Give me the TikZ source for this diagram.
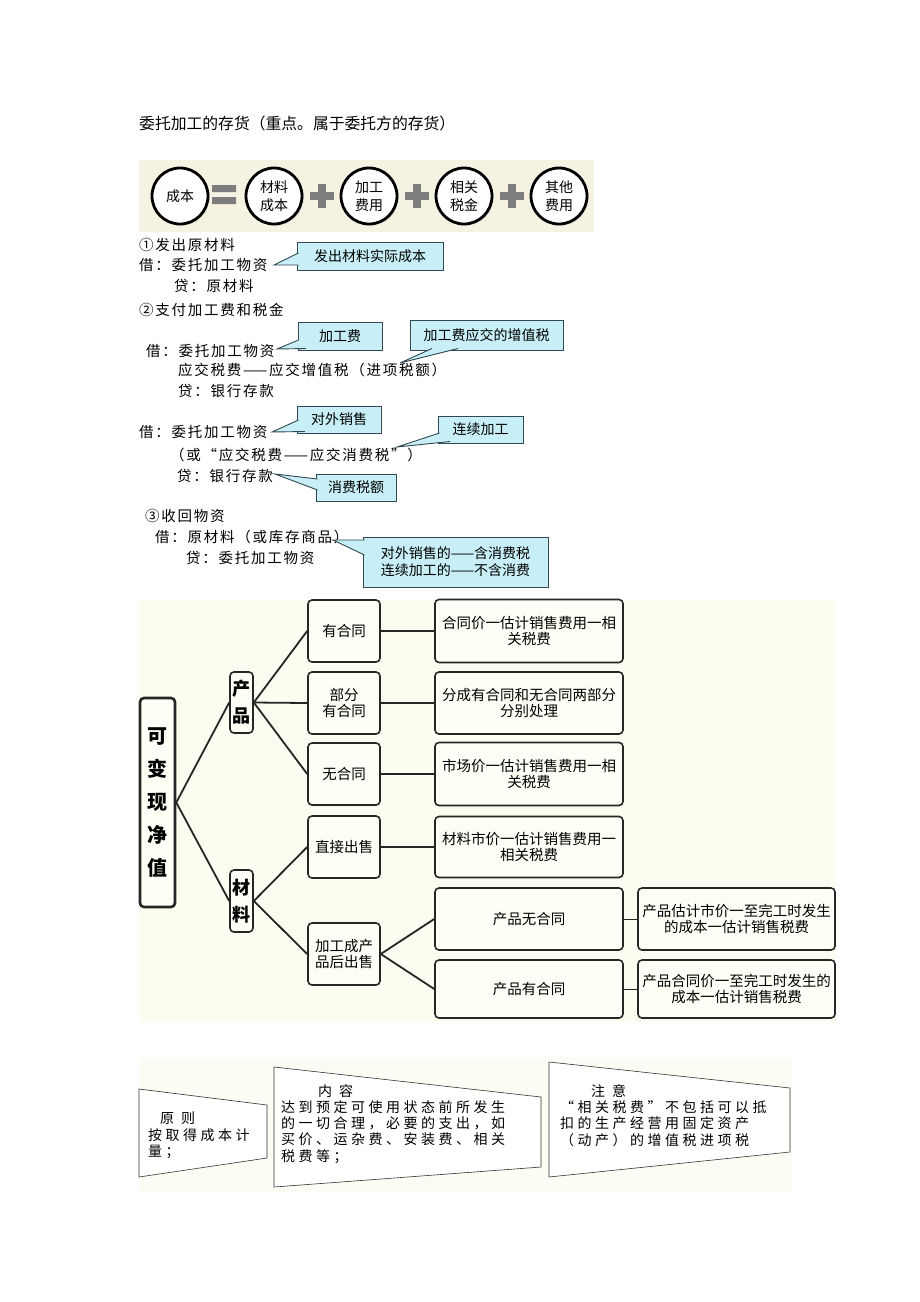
\documentclass[tikz,border=0pt]{standalone}
\usepackage{fontspec}
\setmainfont{Noto Sans CJK SC}
\newfontfamily\bodyfont[LetterSpace=12]{Noto Sans CJK SC}
\newfontfamily\notefont[LetterSpace=25]{Noto Sans CJK SC}
\usetikzlibrary{shadows}
\definecolor{barbg}{RGB}{246,242,226}
\definecolor{treebg}{RGB}{253,252,240}
\definecolor{boxbg}{RGB}{254,254,247}
\definecolor{botbg}{RGB}{252,251,244}
\definecolor{tagfill}{RGB}{200,239,247}
\definecolor{tagline}{RGB}{50,72,82}
\definecolor{opgray}{RGB}{125,125,125}
\newcommand{\tagtail}[3]{\fill[tagfill] (#1) -- (#2) -- (#3) -- cycle; \draw[tail] (#1) -- (#2) -- (#3);}

\begin{document}
\begin{tikzpicture}[x=1pt,y=-1pt,
  txt/.style={anchor=west,inner sep=0pt,font=\fontsize{14.5}{16}\bodyfont},
  coin/.style={circle,draw=black,line width=2.8pt,fill=white,minimum size=56pt,inner sep=0pt,align=center,
    font=\fontsize{14}{18}\selectfont,drop shadow={shadow xshift=1.5pt,shadow yshift=-1.5pt,fill=black!30}},
  tag/.style={draw=tagline,fill=tagfill,line width=0.9pt,inner sep=0pt,font=\fontsize{14}{17}\selectfont},
  tail/.style={draw=tagline,line width=0.9pt},
  twig/.style={draw=black!85,fill=boxbg,line width=1.6pt,rounded corners=4pt,inner sep=0pt,align=center,
    font=\fontsize{14.5}{16.5}\selectfont},
  limb/.style={draw=black!85,line width=1.8pt},
  note/.style={draw=black!80,fill=white,line width=0.6pt},
  notetxt/.style={anchor=north west,inner sep=0pt,align=left,font=\fontsize{14}{16.3}\notefont}]
\useasboundingbox (0,0) rectangle (920,1302);

\node (title) at (139,123) [anchor=west,inner sep=0pt,font=\fontsize{15.8}{18}\selectfont] {委托加工的存货（重点。属于委托方的存货）};

\fill[barbg] (139,160) rectangle (594,232);
\node (cost) at (180,196) [coin] {成本};
\node (matc) at (274,196) [coin] {材料\\成本};
\node (fee) at (369,196) [coin] {加工\\费用};
\node (taxc) at (464,196) [coin] {相关\\税金};
\node (other) at (559,196) [coin] {其他\\费用};
\fill[opgray] (212,185) rectangle (236,192) (212,197) rectangle (236,204);
\foreach \x in {322,417,512} {
  \fill[opgray] (\x-12,192) rectangle (\x+12,200);
  \fill[opgray] (\x-4,184) rectangle (\x+4,208);
}

\node (s1) at (139,245) [txt] {①发出原材料};
\node (s1dr) at (139,265) [txt] {借：委托加工物资};
\node (s1cr) at (174,286) [txt] {贷：原材料};
\node (n1) at (370,256) [tag,minimum width=146pt,minimum height=28pt] {发出材料实际成本};
\coordinate (t1) at (274,265);
\coordinate (a1) at (298.5,253);
\coordinate (b1) at (298.5,265);
\tagtail{a1}{t1}{b1}

\node (s2) at (139,310) [txt] {②支付加工费和税金};
\node (s2dr) at (146,351) [txt] {借：委托加工物资};
\node (s2vat) at (178,370) [txt] {应交税费——应交增值税（进项税额）};
\node (s2cr) at (178,391) [txt] {贷：银行存款};
\node (n2) at (340,336) [tag,minimum width=84pt,minimum height=28pt] {加工费};
\coordinate (t2) at (277,349);
\coordinate (a2) at (298.5,340);
\coordinate (b2) at (306,348.5);
\tagtail{a2}{t2}{b2}
\node (n3) at (486.5,335) [tag,minimum width=153pt,minimum height=30pt] {加工费应交的增值税};
\coordinate (t3) at (400,363);
\coordinate (a3) at (432,348.5);
\coordinate (b3) at (458,348.5);
\tagtail{a3}{t3}{b3}

\node (s3dr) at (139,432) [txt] {借：委托加工物资};
\node (s3alt) at (170,455) [txt] {（或“应交税费——应交消费税”）};
\node (s3cr) at (177,476) [txt] {贷：银行存款};
\node (n4) at (339,419.5) [tag,minimum width=84pt,minimum height=27pt] {对外销售};
\coordinate (t4) at (272,432);
\coordinate (a4) at (298.5,420);
\coordinate (b4) at (305,431.5);
\tagtail{a4}{t4}{b4}
\node (n5) at (480.5,429.5) [tag,minimum width=85pt,minimum height=27pt] {连续加工};
\coordinate (t5) at (397,447);
\coordinate (a5) at (439.5,433);
\coordinate (b5) at (450,441.5);
\tagtail{a5}{t5}{b5}
\node (n6) at (356,487.5) [tag,minimum width=80pt,minimum height=27pt] {消费税额};
\coordinate (t6) at (275,474);
\coordinate (a6) at (317.5,479);
\coordinate (b6) at (317.5,490);
\tagtail{a6}{t6}{b6}

\node (s4) at (145,516) [txt] {③收回物资};
\node (s4dr) at (155,537) [txt] {借：原材料（或库存商品）};
\node (s4cr) at (186,558) [txt] {贷：委托加工物资};
\node (n7) at (455.5,562) [tag,minimum width=185pt,minimum height=50pt,align=left] {对外销售的——含消费税\\连续加工的——不含消费};
\coordinate (t7) at (333,540);
\coordinate (a7) at (364.5,540);
\coordinate (b7) at (364.5,555);
\tagtail{a7}{t7}{b7}

\fill[treebg] (139,600) rectangle (836,1022);
\node (root) at (157.5,802.5) [twig,line width=2.6pt,minimum width=35pt,minimum height=209pt,font=\fontsize{20}{33}\selectfont\bfseries] {可\\变\\现\\净\\值};
\node (prod) at (241.5,702.5) [twig,minimum width=23pt,minimum height=61pt,font=\fontsize{18}{27}\selectfont\bfseries] {产\\品};
\node (raw) at (241.5,901) [twig,minimum width=23pt,minimum height=62pt,font=\fontsize{18}{27}\selectfont\bfseries] {材\\料};
\node (hc) at (344,631) [twig,minimum width=72pt,minimum height=62pt] {有合同};
\node (bf) at (344,703) [twig,minimum width=72pt,minimum height=62pt] {部分\\有合同};
\node (wc) at (344,774) [twig,minimum width=72pt,minimum height=62pt] {无合同};
\node (zj) at (344,847) [twig,minimum width=72pt,minimum height=62pt] {直接出售};
\node (jg) at (344,954) [twig,minimum width=72pt,minimum height=62pt] {加工成产\\品后出售};
\node (r1) at (529,631) [twig,minimum width=188pt,minimum height=63pt] {合同价一估计销售费用一相\\关税费};
\node (r2) at (529,703) [twig,minimum width=188pt,minimum height=62pt] {分成有合同和无合同两部分\\分别处理};
\node (r3) at (529,774) [twig,minimum width=188pt,minimum height=63pt] {市场价一估计销售费用一相\\关税费};
\node (r4) at (529,847) [twig,minimum width=188pt,minimum height=61pt] {材料市价一估计销售费用一\\相关税费};
\node (r5) at (529,919) [twig,minimum width=188pt,minimum height=62pt] {产品无合同};
\node (r6) at (529,989) [twig,minimum width=188pt,minimum height=58pt] {产品有合同};
\node (f1) at (736.5,919) [twig,minimum width=197pt,minimum height=62pt] {产品估计市价一至完工时发生\\的成本一估计销售税费};
\node (f2) at (736.5,989) [twig,minimum width=197pt,minimum height=58pt] {产品合同价一至完工时发生的\\成本一估计销售税费};
\draw[limb] (prod.west) to (root.east) to (raw.west);
\draw[limb] (hc.west) to (prod.east) to (wc.west);
\draw[limb] (prod.east) to (bf.west);
\draw[limb] (zj.west) to (raw.east) to (jg.west);
\foreach \a/\b in {hc/r1,bf/r2,wc/r3,zj/r4} \draw[limb] (\a) to (\b);
\draw[limb] (r5.west) to (jg.east) to (r6.west);
\draw[limb,line width=1pt] (r5) to (f1);
\draw[limb,line width=1pt] (r6) to (f2);

\fill[botbg] (139,1058) rectangle (792,1192);
\draw[note] (139,1089) -- (267,1105) -- (267,1158) -- (139,1177) -- cycle;
\draw[note] (274,1067) -- (541,1097) -- (541,1167) -- (274,1187) -- cycle;
\draw[note] (549,1062) -- (790,1088) -- (790,1152) -- (549,1177) -- cycle;
\node (rule) at (148,1112) [notetxt] {\hspace*{12pt}原\hspace{7pt}则\\按取得成本计\\量；};
\node (body) at (281,1084) [notetxt] {\hspace*{37pt}内\hspace{7pt}容\\达到预定可使用状态前所发生\\的一切合理，必要的支出，如\\买价、运杂费、安装费、相关\\税费等；};
\node (care) at (560,1084) [notetxt] {\hspace*{31pt}注\hspace{7pt}意\\“相关税费”不包括可以抵\\扣的生产经营用固定资产\\（动产）的增值税进项税};
\end{tikzpicture}
\end{document}
